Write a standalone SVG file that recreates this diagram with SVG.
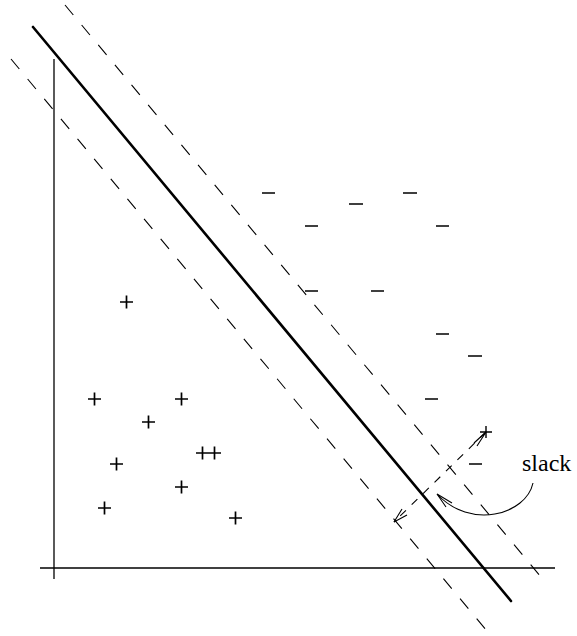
<svg xmlns="http://www.w3.org/2000/svg" width="577" height="636" viewBox="0 0 577 636">
<style>
.axis{stroke:#000;stroke-width:1.3;fill:none}
.main{stroke:#000;stroke-width:2.6;fill:none;stroke-linecap:round}
.dash{stroke:#000;stroke-width:1.1;fill:none;stroke-dasharray:13 13}
.sym{stroke:#000;stroke-width:1.7;fill:none}
.arr{stroke:#000;stroke-width:1.1;fill:none}
</style>
<rect width="577" height="636" fill="#fff"/>
<g id="axes">
<line class="axis" x1="54" y1="59" x2="54" y2="579"/>
<line class="axis" x1="40" y1="568" x2="555" y2="568"/>
</g>
<g id="lines">
<line class="main" x1="33" y1="27" x2="511" y2="601"/>
<line class="dash" x1="65" y1="5" x2="541" y2="577"/>
<line class="dash" x1="11" y1="59" x2="487" y2="631"/>
</g>
<g id="minus" class="sym">
<path d="M262,193h13 M403,193h14 M349,204h14 M305,226h13 M436,226h13 M305,291h13 M371,291h13 M436,334h13 M468,356h14 M425,399h13 M469,464h13"/>
</g>
<g id="plus" class="sym">
<path d="M120,302h13 M126.5,295.5v13 M88,399h13 M94.5,392.5v13 M175,399h13 M181.5,392.5v13 M142,422h13 M148.5,415.5v13 M196,453h13 M202.5,446.5v13 M208,453h13 M214.5,446.5v13 M110,464h13 M116.5,457.5v13 M175,487h13 M181.5,480.5v13 M98,508h13 M104.5,501.5v13 M229,518h13 M235.5,511.5v13"/>
<path d="M480,432h12 M486,426v12" stroke-width="1.4"/>
</g>
<g id="connectors">
<line class="arr" x1="486" y1="432" x2="394" y2="522" stroke-dasharray="8 8"/>
<path class="arr" d="M486,432 L474,443 M486,432 L477,446 M394,522 L402,509 M394,522 L407,515"/>
<path class="arr" d="M533,483 C526,515 470,530 437,494"/>
<path class="arr" d="M437,494 L452,503 M437,494 L446,507"/>
</g>
<g id="label">
<text x="522" y="471" font-family="'Liberation Serif', 'Times New Roman', serif" font-size="24" fill="#000">slack</text>
</g>
</svg>
